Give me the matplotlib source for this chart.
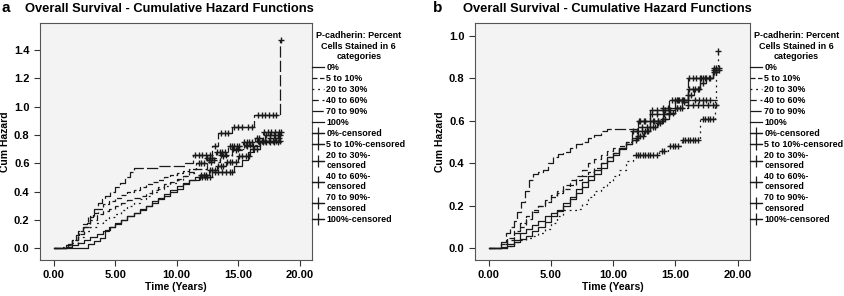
import numpy as np
import matplotlib.pyplot as plt
from matplotlib.lines import Line2D

plt.rcParams['font.family'] = ['Liberation Sans', 'DejaVu Sans']
plt.rcParams['font.weight'] = 'bold'

groups = ['0%', '5 to 10%', '20 to 30%', '40 to 60%', '70 to 90%', '100%']
cens_labels = ['0%-censored', '5 to 10%-censored', '20 to 30%-\ncensored',
               '40 to 60%-\ncensored', '70 to 90%-\ncensored', '100%-censored']
legend_title = 'P-cadherin: Percent\nCells Stained in 6\ncategories'
chart_title = 'Overall Survival - Cumulative Hazard Functions'

# ---- panel a ----
a_0_t = [0, 0.5, 1, 1.5, 2, 2.5, 3, 3.5, 4, 4.5, 5, 5.5, 6, 6.5, 7, 7.5, 8, 8.5, 9, 9.5, 10, 10.5, 11, 11.5,
         11.9, 12.6, 13.3, 14.0, 15.0, 16.0, 16.8, 17.2, 18.5]
a_0_h = [0, 0.0, 0.01, 0.025, 0.04, 0.06, 0.08, 0.10, 0.125, 0.15, 0.175, 0.20, 0.225, 0.25, 0.27, 0.295, 0.32,
         0.345, 0.37, 0.395, 0.42, 0.45, 0.48, 0.50, 0.52, 0.55, 0.58, 0.61, 0.65, 0.70, 0.76, 0.80, 0.80]
a_0_c = [12.0, 12.2, 12.4, 12.7, 12.9, 13.1, 13.4, 13.6, 13.8, 14.1, 14.3, 14.5, 14.8, 15.1, 15.3, 15.6, 15.9,
         16.2, 16.5, 17.3, 17.6, 17.9, 18.2, 18.4]
a_5_t = [0, 1.0, 1.5, 2.0, 2.4, 2.8, 3.2, 3.6, 4.0, 4.5, 5.0, 5.5, 6.0, 6.5, 7.0, 7.5, 8.0, 8.5, 9.0, 9.5, 10.0,
         10.5, 11.0, 11.6, 12.4, 13.2, 14.2, 15.4, 16.4, 17.0, 18.5]
a_5_h = [0, 0.02, 0.06, 0.12, 0.17, 0.22, 0.25, 0.28, 0.31, 0.335, 0.355, 0.375, 0.395, 0.41, 0.43, 0.45, 0.465,
         0.48, 0.50, 0.515, 0.53, 0.545, 0.56, 0.60, 0.64, 0.68, 0.72, 0.75, 0.78, 0.82, 0.82]
a_5_c = [11.8, 12.0, 12.2, 12.5, 12.7, 12.9, 13.3, 13.5, 13.7, 13.9, 14.3, 14.5, 14.7, 14.9, 15.1, 15.5, 15.7,
         15.9, 16.1, 16.5, 16.7, 17.1, 17.4, 17.7, 18.0, 18.3, 18.5]
a_20_t = [0, 1.0, 1.5, 2.0, 2.5, 3.0, 3.5, 4.0, 4.5, 5.0, 5.5, 6.0, 6.5, 7.0, 7.5, 8.0, 8.5, 9.0, 9.5, 10.0, 10.5,
          11.0, 11.5, 12.5, 13.5, 14.5, 15.5, 16.5, 17.5, 18.5]
a_20_h = [0, 0.01, 0.04, 0.08, 0.12, 0.15, 0.18, 0.20, 0.22, 0.245, 0.27, 0.30, 0.32, 0.345, 0.37, 0.395, 0.42,
          0.44, 0.46, 0.48, 0.51, 0.53, 0.56, 0.62, 0.66, 0.70, 0.73, 0.76, 0.78, 0.78]
a_20_c = [12.6, 13.0, 13.6, 14.0, 14.6, 15.0, 15.6, 16.0, 16.6, 17.0, 17.6, 18.0, 18.3]
a_40_t = [0, 1.0, 1.5, 2.0, 2.5, 3.0, 3.5, 4.0, 4.5, 5.0, 5.5, 6.0, 6.5, 7.0, 7.5, 8.0, 8.5, 9.0, 9.5, 10.0, 10.5,
          11.0, 11.5, 12.5, 13.5, 14.5, 15.5, 16.5, 18.5]
a_40_h = [0, 0.02, 0.06, 0.10, 0.15, 0.20, 0.24, 0.26, 0.28, 0.30, 0.32, 0.34, 0.355, 0.37, 0.39, 0.41, 0.43,
          0.45, 0.47, 0.49, 0.51, 0.535, 0.56, 0.61, 0.65, 0.69, 0.72, 0.75, 0.75]
a_40_c = [12.8, 13.8, 14.8, 15.7, 16.2, 16.7, 17.0, 17.3, 17.6, 17.9, 18.2]
a_70_t = [0, 0.8, 1.2, 1.5, 1.8, 2.1, 2.4, 2.7, 3.0, 3.3, 3.6, 3.9, 4.2, 4.6, 5.0, 5.4, 5.8, 6.2, 6.5, 8.5, 10.7,
          11.3, 12.9, 13.4, 14.5, 16.3, 18.4]
a_70_h = [0, 0.01, 0.03, 0.06, 0.09, 0.12, 0.15, 0.18, 0.23, 0.28, 0.32, 0.35, 0.37, 0.40, 0.43, 0.46, 0.50,
          0.54, 0.565, 0.58, 0.60, 0.66, 0.72, 0.81, 0.855, 0.94, 1.47]
a_70_c = [11.5, 11.8, 12.1, 12.4, 12.7, 13.1, 13.6, 13.9, 14.2, 14.7, 15.0, 15.3, 15.8, 16.1, 16.6, 16.9, 17.2,
          17.5, 17.8, 18.1, 18.45]
a_100_t = [0, 2.3, 2.8, 3.3, 3.8, 4.2, 4.6, 5.0, 5.5, 6, 6.5, 7, 7.5, 8, 8.5, 9, 9.5, 10, 10.5, 11, 11.8, 12.9,
           14.7, 15.3, 15.8, 16.3, 16.8, 18.5]
a_100_h = [0, 0.0, 0.03, 0.05, 0.07, 0.13, 0.15, 0.17, 0.20, 0.225, 0.25, 0.28, 0.30, 0.33, 0.355, 0.38, 0.41,
           0.44, 0.46, 0.48, 0.50, 0.54, 0.58, 0.62, 0.68, 0.72, 0.76, 0.76]
a_100_c = [11.9, 12.1, 12.3, 12.5, 12.7, 13.1, 13.4, 13.7, 14.0, 14.3, 14.5, 16.9, 17.2, 17.5, 17.8, 18.1, 18.4]

# ---- panel b ----
b_0_t = [0, 0.5, 1, 1.5, 2, 2.5, 3, 3.5, 4, 4.5, 5, 5.5, 6, 6.5, 7, 7.5, 8, 8.5, 9, 9.5, 10, 10.5, 11, 11.5, 12,
         12.5, 13, 13.5, 14, 14.5, 15, 15.5, 16, 16.5, 17, 17.5, 18, 18.5]
b_0_h = [0, 0, 0.005, 0.02, 0.04, 0.07, 0.09, 0.11, 0.13, 0.15, 0.165, 0.18, 0.215, 0.24, 0.28, 0.31, 0.34, 0.37,
         0.40, 0.43, 0.45, 0.47, 0.49, 0.51, 0.53, 0.55, 0.57, 0.59, 0.61, 0.635, 0.66, 0.69, 0.72, 0.75, 0.78,
         0.80, 0.84, 0.84]
b_0_c = [11.8, 12.0, 12.2, 12.4, 12.6, 12.8, 13.0, 13.2, 13.4, 13.6, 13.8, 14.0, 14.2, 14.5, 14.8, 15.1, 15.4,
         15.7, 16.0, 16.3, 16.6, 16.9, 17.2, 18.1, 18.3, 18.5]
b_5_t = [0, 0.5, 1, 1.5, 2, 2.5, 3, 3.5, 4, 4.5, 5, 5.5, 6, 6.5, 7, 7.5, 8, 8.5, 9, 9.5, 10, 10.5, 11, 11.5, 12,
         13, 14, 15, 16, 18.5]
b_5_h = [0, 0, 0.02, 0.05, 0.08, 0.12, 0.15, 0.18, 0.20, 0.22, 0.24, 0.26, 0.28, 0.30, 0.32, 0.34, 0.36, 0.38,
         0.40, 0.43, 0.45, 0.48, 0.50, 0.55, 0.57, 0.60, 0.63, 0.66, 0.675, 0.675]
b_5_c = [11.6, 11.9, 12.3, 12.7, 13.2, 13.6, 14.1, 14.5, 15.1, 15.5, 16.0, 16.4, 16.8, 17.2, 17.6, 18.0, 18.3]
b_20_t = [0, 0.5, 1.5, 2, 2.5, 3, 3.5, 4, 4.5, 5, 5.5, 6, 6.5, 7, 7.5, 8, 8.5, 9, 9.5, 10, 10.5, 11, 11.6, 13.7,
          14.4, 15.5, 17.0, 18.2, 18.3, 18.4]
b_20_h = [0, 0, 0.01, 0.03, 0.04, 0.05, 0.06, 0.07, 0.09, 0.12, 0.15, 0.18, 0.18, 0.185, 0.21, 0.24, 0.27, 0.29,
          0.31, 0.34, 0.37, 0.41, 0.44, 0.46, 0.48, 0.51, 0.61, 0.70, 0.84, 0.93]
b_20_c = [11.8, 12.0, 12.2, 12.4, 12.6, 12.8, 13.0, 13.2, 13.5, 13.9, 14.1, 14.6, 14.8, 15.0, 15.2, 15.6, 15.8,
          16.0, 16.2, 16.4, 16.6, 16.8, 17.2, 17.4, 17.6, 17.8, 18.0, 18.45]
b_40_t = [0, 0.5, 1, 1.5, 2, 2.5, 3, 3.5, 4, 4.5, 5, 5.5, 6, 6.5, 7, 7.5, 8, 8.5, 9, 9.5, 10, 10.5, 11, 11.5, 12,
          13, 14, 15, 18.5]
b_40_h = [0, 0, 0.02, 0.04, 0.07, 0.10, 0.14, 0.17, 0.20, 0.225, 0.25, 0.27, 0.30, 0.32, 0.34, 0.37, 0.40, 0.42,
          0.44, 0.46, 0.47, 0.47, 0.50, 0.55, 0.60, 0.63, 0.66, 0.70, 0.70]
b_40_c = [12.2, 12.6, 13.1, 13.5, 14.0, 14.4, 15.2, 15.6, 16.0, 16.6, 16.9, 17.2, 17.5, 17.8]
b_70_t = [0, 0.6, 1.0, 1.4, 1.7, 2.0, 2.3, 2.6, 2.9, 3.2, 3.6, 4.0, 4.4, 4.8, 5.2, 5.6, 6.0, 6.5, 7.0, 7.5, 8.0,
          8.5, 9.0, 9.5, 11.2, 12, 13, 14.5, 16.0, 18.0, 18.5]
b_70_h = [0, 0, 0.03, 0.07, 0.10, 0.13, 0.17, 0.22, 0.27, 0.32, 0.35, 0.36, 0.37, 0.40, 0.43, 0.445, 0.455, 0.47,
          0.49, 0.50, 0.52, 0.535, 0.55, 0.56, 0.56, 0.60, 0.65, 0.70, 0.80, 0.85, 0.85]
b_70_c = [12.1, 12.5, 13.1, 13.5, 14.0, 14.7, 15.1, 15.5, 16.1, 16.4, 16.7, 17.0, 17.2, 17.5, 17.8, 18.1, 18.3, 18.5]
b_100_t = [0, 0.5, 1.5, 2, 2.5, 3, 3.5, 4, 4.5, 5, 5.5, 6, 6.5, 7, 7.5, 8, 8.5, 9, 9.5, 10, 10.5, 11, 11.5, 12,
           13, 14, 15, 16, 17, 18, 18.4]
b_100_h = [0, 0, 0.01, 0.03, 0.045, 0.06, 0.08, 0.10, 0.125, 0.15, 0.175, 0.20, 0.23, 0.26, 0.29, 0.32, 0.35,
           0.38, 0.41, 0.44, 0.465, 0.49, 0.52, 0.55, 0.60, 0.65, 0.70, 0.75, 0.80, 0.83, 0.83]
b_100_c = [11.9, 12.3, 12.7, 13.0, 13.3, 13.6, 13.9, 14.2, 14.6, 15.0, 15.3, 15.7, 16.1, 16.4, 16.8, 17.1, 17.4,
           17.7, 18.1, 18.3]

styles = ['-', (0, (4, 2)), (0, (1.5, 3)), (0, (5, 3)), (0, (9, 2.5)), '-']

panel_a = [(a_0_t, a_0_h, a_0_c), (a_5_t, a_5_h, a_5_c), (a_20_t, a_20_h, a_20_c),
           (a_40_t, a_40_h, a_40_c), (a_70_t, a_70_h, a_70_c), (a_100_t, a_100_h, a_100_c)]
panel_b = [(b_0_t, b_0_h, b_0_c), (b_5_t, b_5_h, b_5_c), (b_20_t, b_20_h, b_20_c),
           (b_40_t, b_40_h, b_40_c), (b_70_t, b_70_h, b_70_c), (b_100_t, b_100_h, b_100_c)]


def draw_panel(ax, curves, ylim, yticks):
    ax.set_facecolor('#f3f3f3')
    for (t, h, c), ls in zip(curves, styles):
        t = np.array(t)
        h = np.array(h)
        ax.step(t, h, where='post', color='#1a1a1a', lw=0.9, linestyle=ls)
        idx = np.searchsorted(t, c, side='right') - 1
        ax.plot(c, h[idx], linestyle='none', marker='+', color='#1a1a1a', markersize=5, mew=1.0)
    ax.set_xlim(-1.1, 21.0)
    ax.set_ylim(*ylim)
    ax.set_xticks([0, 5, 10, 15, 20])
    ax.set_xticklabels(['0.00', '5.00', '10.00', '15.00', '20.00'])
    ax.set_yticks(yticks)
    ax.set_yticklabels(['%.1f' % v for v in yticks])
    ax.tick_params(labelsize=8, length=4, width=0.8, color='#333333', pad=3.5)
    for s in ax.spines.values():
        s.set_color('#555555')
        s.set_linewidth(0.8)
    ax.set_xlabel('Time (Years)', fontsize=7.5, fontweight='bold', labelpad=1)
    ax.set_ylabel('Cum Hazard', fontsize=7.5, fontweight='bold', labelpad=3)

    handles = [Line2D([], [], color='#1a1a1a', lw=0.9, linestyle=ls) for ls in styles]
    handles += [Line2D([], [], color='#1a1a1a', lw=0.9, marker='+', markersize=8, mew=0.9) for _ in styles]
    leg = ax.legend(handles, groups + cens_labels, loc='upper left', bbox_to_anchor=(1.0, 0.965),
                    frameon=False, fontsize=6.4, title=legend_title, borderaxespad=0, borderpad=0,
                    handlelength=1.3, handletextpad=0.3, labelspacing=0.22, alignment='center',
                    title_fontproperties={'weight': 'bold', 'size': 6.5})
    leg.get_title().set_multialignment('center')
    for txt in leg.get_texts():
        txt.set_fontweight('bold')


fig = plt.figure(figsize=(8.44, 2.96), dpi=100)
ax_a = fig.add_axes([0.0474, 0.1216, 0.3223, 0.8007])
ax_b = fig.add_axes([0.5628, 0.1216, 0.3258, 0.8007])

draw_panel(ax_a, panel_a, (-0.083, 1.59), [0.0, 0.2, 0.4, 0.6, 0.8, 1.0, 1.2, 1.4])
draw_panel(ax_b, panel_b, (-0.055, 1.06), [0.0, 0.2, 0.4, 0.6, 0.8, 1.0])

fig.text(0.002, 0.972, 'a', fontsize=11, fontweight='bold', va='center')
fig.text(0.030, 0.970, chart_title, fontsize=9.3, fontweight='bold', va='center')
fig.text(0.513, 0.972, 'b', fontsize=11, fontweight='bold', va='center')
fig.text(0.549, 0.970, chart_title, fontsize=9.3, fontweight='bold', va='center')

fig.savefig('out.png', dpi=100)
